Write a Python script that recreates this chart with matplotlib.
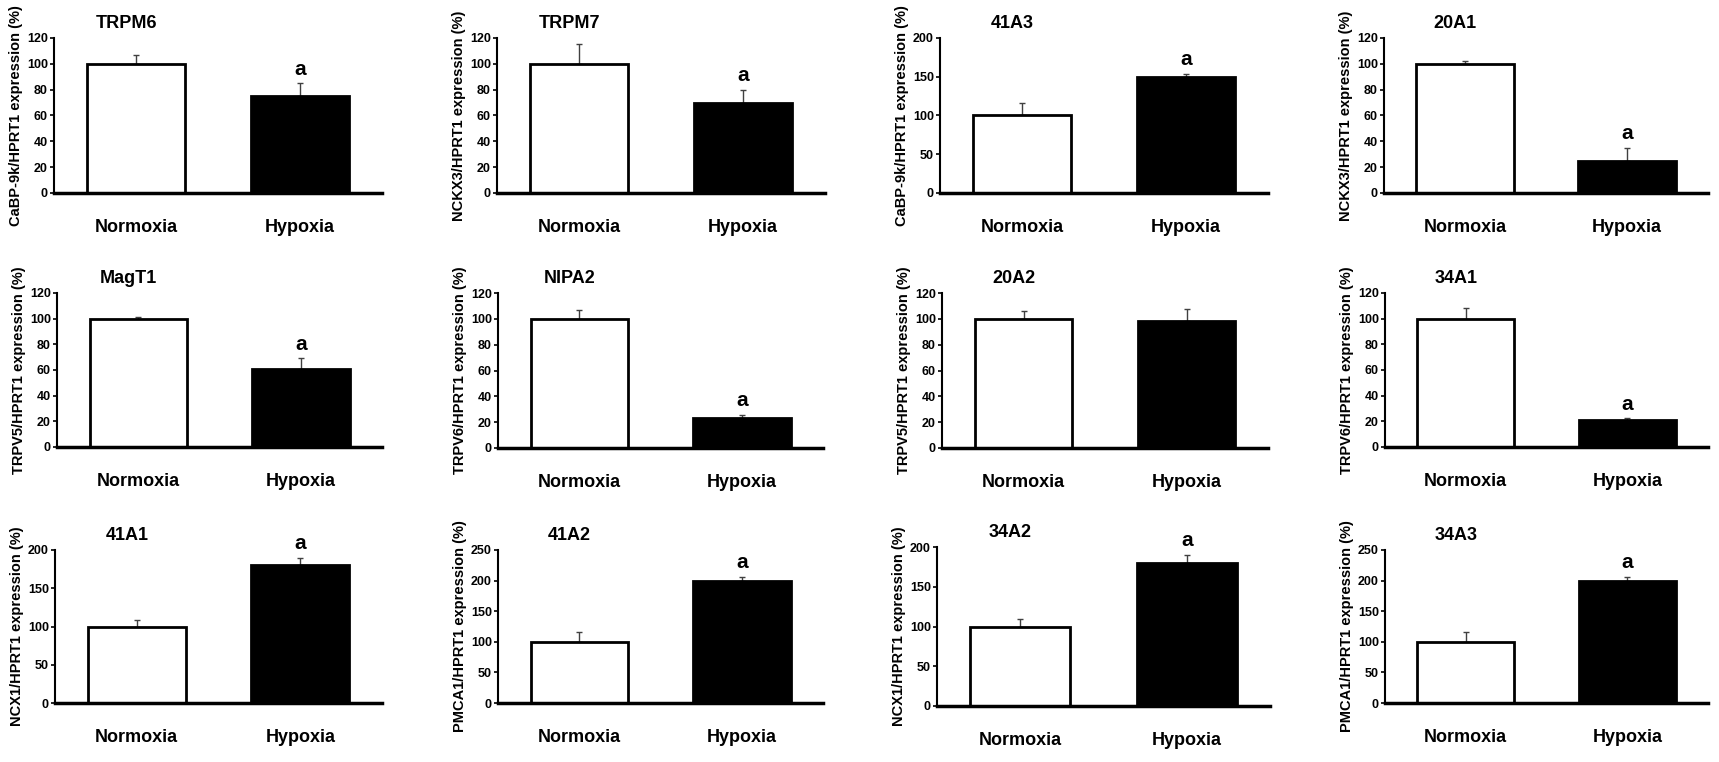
import matplotlib
matplotlib.use("Agg")
import matplotlib.pyplot as plt
from matplotlib import font_manager

# ---- data ----
groups = ["Normoxia", "Hypoxia"]

titles = ["TRPM6", "TRPM7", "41A3", "20A1",
          "MagT1", "NIPA2", "20A2", "34A1",
          "41A1", "41A2", "34A2", "34A3"]

ylabels = [
    "CaBP-9k/HPRT1 expression (%)", "NCKX3/HPRT1 expression (%)",
    "CaBP-9k/HPRT1 expression (%)", "NCKX3/HPRT1 expression (%)",
    "TRPV5/HPRT1 expression (%)", "TRPV6/HPRT1 expression (%)",
    "TRPV5/HPRT1 expression (%)", "TRPV6/HPRT1 expression (%)",
    "NCX1/HPRT1 expression (%)", "PMCA1/HPRT1 expression (%)",
    "NCX1/HPRT1 expression (%)", "PMCA1/HPRT1 expression (%)",
]

normoxia = [100, 100, 100, 100, 100, 100, 100, 100, 100, 100, 100, 100]
normoxia_err = [7, 15, 16, 2, 1.5, 7, 6, 8, 9, 16, 10, 16]
hypoxia = [75, 70, 150, 25, 61, 23, 98, 21, 180, 200, 180, 200]
hypoxia_err = [10, 10, 4, 10, 8, 2.5, 10, 1.5, 10, 6, 10, 6]
significant = [True, True, True, True, True, True, False, True,
               True, True, True, True]

y_max = [120, 120, 200, 120, 120, 120, 120, 120, 200, 250, 200, 250]
y_step = [20, 20, 50, 20, 20, 20, 20, 20, 50, 50, 50, 50]

# axes boxes in pixels (left, top, right, bottom) of the 1719x762 canvas
FIG_W, FIG_H = 1719, 762
boxes = [
    (54, 38, 382, 193), (497, 38, 825, 193), (940, 38, 1268, 193), (1384, 38, 1708, 193),
    (57, 293, 382, 447), (498, 293, 823, 448), (942, 293, 1268, 448), (1385, 293, 1708, 447),
    (55, 550, 382, 703), (498, 550, 823, 703), (937, 547, 1270, 706), (1385, 550, 1708, 703),
]

available = {f.name for f in font_manager.fontManager.ttflist}
NARROW = "Liberation Sans Narrow" if "Liberation Sans Narrow" in available else "Liberation Sans"
MAIN = "Liberation Sans"
label_size = 15 if NARROW == "Liberation Sans Narrow" else 13

fig = plt.figure(figsize=(FIG_W / 100, FIG_H / 100), dpi=100)

for i in range(len(titles)):
    left, top, right, bottom = boxes[i]
    ax = fig.add_axes([
        left / FIG_W,
        1 - bottom / FIG_H,
        (right - left) / FIG_W,
        (bottom - top) / FIG_H,
    ])

    values = [normoxia[i], hypoxia[i]]
    errors = [normoxia_err[i], hypoxia_err[i]]
    positions = [0, 1]

    ax.errorbar(positions, values, yerr=[[0, 0], errors], fmt="none",
                ecolor="#404040", elinewidth=1.0, capsize=2.5, capthick=1.0,
                zorder=1)
    ax.bar(positions, values, width=0.6, color=["white", "black"],
           edgecolor="black", linewidth=2.0, zorder=2)

    if significant[i]:
        ax.text(1, hypoxia[i] + hypoxia_err[i] + y_max[i] * 0.03, "a",
                ha="center", va="bottom", fontsize=15, fontweight="bold",
                family=MAIN)

    ax.set_xlim(-0.5, 1.5)
    ax.set_ylim(0, y_max[i])
    ax.set_yticks(range(0, y_max[i] + 1, y_step[i]))
    ax.set_xticks(positions)
    ax.set_xticklabels(groups, fontsize=label_size, fontweight="bold", family=NARROW)
    for label in ax.get_yticklabels():
        label.set_fontsize(9)
        label.set_fontweight("bold")
        label.set_family(MAIN)

    ax.tick_params(axis="x", length=0, pad=19)
    ax.tick_params(axis="y", length=3, width=1.2, pad=1.5, direction="out")

    ax.spines["top"].set_visible(False)
    ax.spines["right"].set_visible(False)
    ax.spines["left"].set_linewidth(1.5)
    ax.spines["bottom"].set_linewidth(2.5)

    ax.set_ylabel(ylabels[i], fontsize=10.5, fontweight="bold", family=MAIN,
                  labelpad=3)
    ax.text(0.22, 1.04, titles[i], transform=ax.transAxes, ha="center",
            va="bottom", fontsize=13, fontweight="bold", family=MAIN)

fig.savefig("out.png", dpi=100)
